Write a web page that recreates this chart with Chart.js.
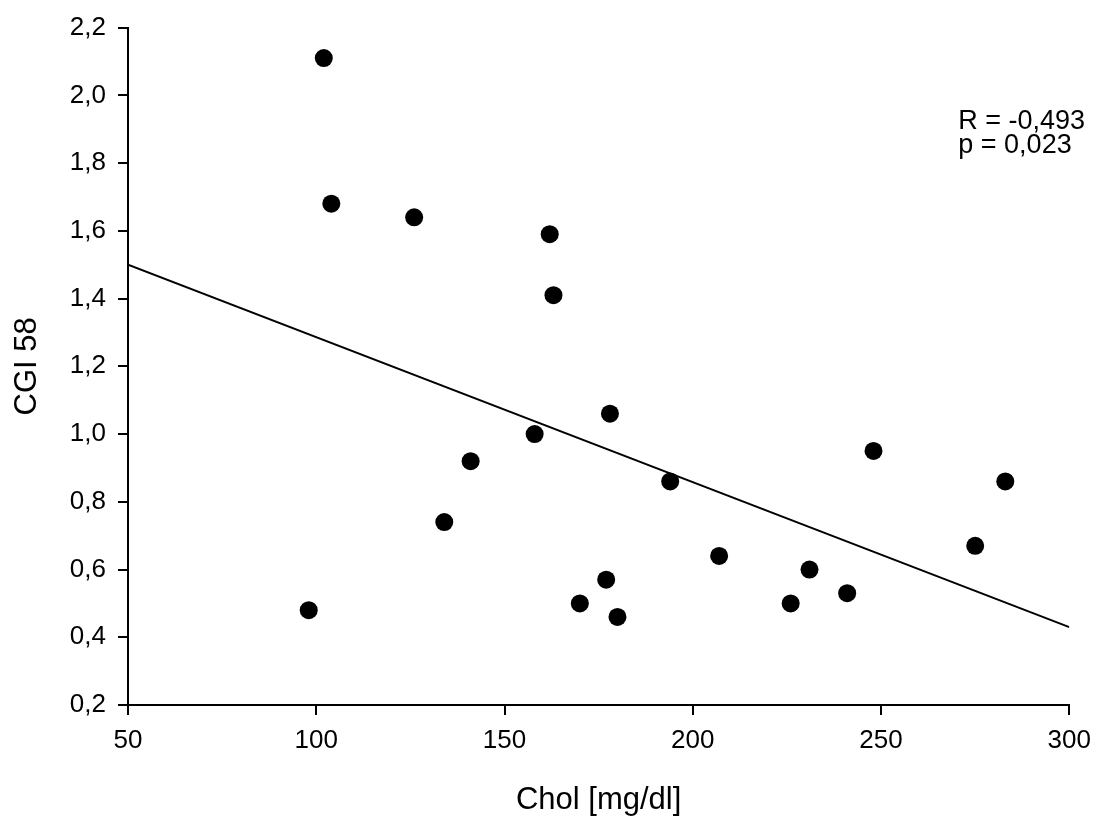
<!DOCTYPE html>
<html>
<head>
<meta charset="utf-8">
<title>CGI 58 vs Chol</title>
<script src="https://cdn.jsdelivr.net/npm/chart.js@4.4.1/dist/chart.umd.min.js"></script>
<style>
  html, body { margin: 0; padding: 0; background: #fff; }
  #wrap { width: 1101px; height: 816px; position: relative; }
</style>
</head>
<body>
<div id="wrap"><canvas id="scatterChart"></canvas></div>
<script>
// Cholesterol [mg/dl] vs CGI 58 per subject
const cholValues = [102, 104, 126, 162, 163, 158, 141, 134, 98, 170, 178,
                    194, 248, 283, 275, 207, 231, 241, 226, 177, 180];
const cgiValues  = [2.11, 1.68, 1.64, 1.59, 1.41, 1.00, 0.92, 0.74, 0.48, 0.50, 1.06,
                    0.86, 0.95, 0.86, 0.67, 0.64, 0.60, 0.53, 0.50, 0.57, 0.46];

// regression line end points
const fitX = [50, 300];
const fitY = [1.50, 0.43];

const xTicks = [50, 100, 150, 200, 250, 300];
const yTicks = [0.2, 0.4, 0.6, 0.8, 1.0, 1.2, 1.4, 1.6, 1.8, 2.0, 2.2];

const statLines = ['R = -0,493', 'p = 0,023'];

const FONT = '"Liberation Sans", Arial, sans-serif';

const points = cholValues.map((x, i) => ({ x: x, y: cgiValues[i] }));
const fitLine = fitX.map((x, i) => ({ x: x, y: fitY[i] }));

// R / p text in the upper right corner
const statsText = {
    id: 'statsText',
    afterDraw(chart) {
        const { ctx, chartArea } = chart;
        ctx.save();
        ctx.font = '27px ' + FONT;
        ctx.fillStyle = '#000';
        ctx.textAlign = 'left';
        ctx.textBaseline = 'alphabetic';
        statLines.forEach((t, i) => {
            ctx.fillText(t, chartArea.right - 111, 129 + i * 24);
        });
        ctx.restore();
    }
};

const axisCommon = {
    border: { display: true, color: '#000', width: 2 },
    grid: { drawOnChartArea: false, drawTicks: true, tickLength: 10, color: '#000', lineWidth: 2 },
};

const ctx = document.getElementById('scatterChart').getContext('2d');
new Chart(ctx, {
    type: 'scatter',
    data: {
        datasets: [{
            label: 'CGI 58',
            data: points,
            backgroundColor: '#000',
            borderWidth: 0,
            pointRadius: 9,
            order: 1
        }, {
            type: 'line',
            label: 'fit',
            data: fitLine,
            borderColor: '#000',
            borderWidth: 2,
            pointRadius: 0,
            fill: false,
            order: 2
        }]
    },
    options: {
        responsive: true,
        maintainAspectRatio: false,
        animation: false,
        events: [],
        layout: { padding: { left: 0, top: 25, right: 28, bottom: 0 } },
        plugins: { legend: { display: false }, tooltip: { enabled: false } },
        scales: {
            x: {
                ...axisCommon,
                type: 'linear',
                min: 50,
                max: 300,
                afterBuildTicks: s => { s.ticks = xTicks.map(v => ({ value: v })); },
                afterFit: s => { s.height = 111; },
                ticks: {
                    color: '#000',
                    padding: 10,
                    font: { family: FONT, size: 26 },
                    callback: v => String(v)
                },
                title: {
                    display: true,
                    text: 'Chol [mg/dl]',
                    color: '#000',
                    font: { family: FONT, size: 31, lineHeight: 1 },
                    padding: { top: 0, bottom: 0 }
                }
            },
            y: {
                ...axisCommon,
                type: 'linear',
                min: 0.2,
                max: 2.2,
                afterBuildTicks: s => { s.ticks = yTicks.map(v => ({ value: v })); },
                afterFit: s => { s.width = 128; },
                ticks: {
                    color: '#000',
                    padding: 12,
                    font: { family: FONT, size: 26 },
                    callback: v => v.toFixed(1).replace('.', ',')
                },
                title: {
                    display: true,
                    text: 'CGI 58',
                    color: '#000',
                    font: { family: FONT, size: 31, lineHeight: 1 },
                    padding: { top: 12, bottom: 0 }
                }
            }
        }
    },
    plugins: [statsText]
});
</script>
</body>
</html>
